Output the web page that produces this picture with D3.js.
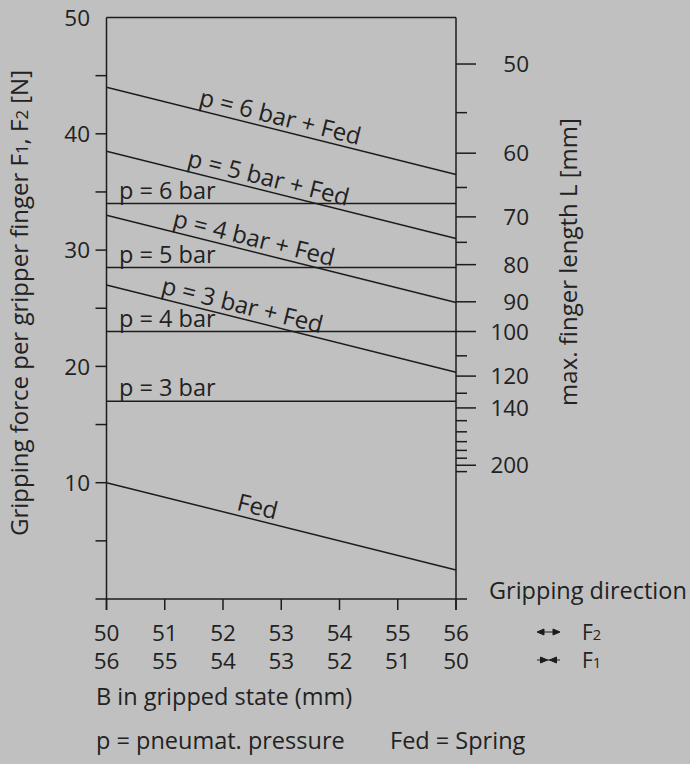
<!DOCTYPE html>
<html>
<head>
<meta charset="utf-8">
<script src="https://cdn.jsdelivr.net/npm/d3@7"></script>
<style>
  html, body { margin: 0; padding: 0; background: #c0c0c0; }
  svg { display: block; }
  text { font-family: "Open Sans", Lato, sans-serif; fill: #222; }
</style>
</head>
<body>
<script>
// ---- data ----
const xTicks = [50, 51, 52, 53, 54, 55, 56];
const xTicksLower = [56, 55, 54, 53, 52, 51, 50];
const yTicks = [5, 10, 15, 20, 25, 30, 35, 40, 45];
const yLabels = [10, 20, 30, 40, 50];

// right axis: max. finger length L, force ~ K / L
const lengthConst = 2300;
const lengthMajor = [50, 60, 70, 80, 90, 100, 120, 140, 200];
const lengthMinor = [55, 65, 75, 110, 130, 150, 160, 170, 180, 190, 210];

// pneumatic only (flat lines)
const flatNames = ["p = 3 bar", "p = 4 bar", "p = 5 bar", "p = 6 bar"];
const flatForce = [17, 23, 28.5, 34];

// spring and pneumatic + spring (sloped lines)
const slopeNames = ["Fed", "p = 3 bar + Fed", "p = 4 bar + Fed", "p = 5 bar + Fed", "p = 6 bar + Fed"];
const slopeStart = [10, 27, 33, 38.5, 44];
const slopeEnd = [2.5, 19.5, 25.5, 31, 36.5];
const slopeLabelAt = [52.2, 50.9, 51.1, 51.35, 51.55];

// ---- layout ----
const W = 690, H = 764;
const fsTick = 22.5, fs = 23.5, fsSlope = 24, fsTitle = 24, fsDir = 21;
const ink = "#1c1c1c";

const x = d3.scaleLinear().domain([50, 56]).range([106.5, 456]);
const y = d3.scaleLinear().domain([0, 50]).range([599, 17.5]);
const yL = d3.scalePow().exponent(-1)
  .domain([50, 200])
  .range([y(lengthConst / 50), y(lengthConst / 200)]);

const svg = d3.select("body").append("svg")
  .attr("width", W).attr("height", H);

const g = svg.append("g")
  .attr("stroke", ink)
  .attr("stroke-width", 1.5)
  .attr("fill", "none");

// frame
g.append("line").attr("x1", x(50)).attr("x2", x(56)).attr("y1", y(50)).attr("y2", y(50));
g.append("line").attr("x1", x(50)).attr("x2", x(50)).attr("y1", y(50)).attr("y2", y(0) + 11);
g.append("line").attr("x1", x(56)).attr("x2", x(56)).attr("y1", y(50)).attr("y2", y(0) + 11);
g.append("line").attr("x1", x(50) - 11).attr("x2", x(56) + 11).attr("y1", y(0)).attr("y2", y(0));

// left ticks
g.selectAll(".yt").data(yTicks).join("line")
  .attr("x1", x(50) - 11).attr("x2", x(50))
  .attr("y1", d => y(d)).attr("y2", d => y(d));

svg.selectAll(".yl").data(yLabels).join("text")
  .attr("x", 90).attr("y", d => y(d)).attr("dy", "0.36em")
  .attr("text-anchor", "end").attr("font-size", fsTick)
  .text(d => d);

// bottom ticks
g.selectAll(".xt").data(xTicks).join("line")
  .attr("x1", d => x(d)).attr("x2", d => x(d))
  .attr("y1", y(0)).attr("y2", y(0) + 11);

svg.selectAll(".xl").data(xTicks).join("text")
  .attr("x", d => x(d)).attr("y", 641)
  .attr("text-anchor", "middle").attr("font-size", fsTick)
  .text(d => d);

svg.selectAll(".xl2").data(xTicksLower).join("text")
  .attr("x", (d, i) => x(xTicks[i])).attr("y", 669)
  .attr("text-anchor", "middle").attr("font-size", fsTick)
  .text(d => d);

// right axis (finger length)
g.selectAll(".rt").data(lengthMajor).join("line")
  .attr("x1", x(56)).attr("x2", x(56) + 20)
  .attr("y1", d => yL(d)).attr("y2", d => yL(d));
g.selectAll(".rm").data(lengthMinor).join("line")
  .attr("x1", x(56)).attr("x2", x(56) + 11)
  .attr("y1", d => yL(d)).attr("y2", d => yL(d));

svg.selectAll(".rl").data(lengthMajor).join("text")
  .attr("x", 529).attr("y", d => yL(d)).attr("dy", "0.36em")
  .attr("text-anchor", "end").attr("font-size", fsTick)
  .text(d => d);

// flat lines
g.selectAll(".fl").data(flatForce).join("line")
  .attr("x1", x(50)).attr("x2", x(56))
  .attr("y1", d => y(d)).attr("y2", d => y(d));

svg.selectAll(".fll").data(flatNames).join("text")
  .attr("x", 119).attr("y", (d, i) => y(flatForce[i]) - 5)
  .attr("font-size", fs)
  .text(d => d);

// sloped lines
const line = d3.line().x(d => x(d[0])).y(d => y(d[1]));
g.selectAll(".sl").data(slopeStart).join("path")
  .attr("d", (d, i) => line([[50, d], [56, slopeEnd[i]]]));

svg.selectAll(".sll").data(slopeNames).join("text")
  .attr("font-size", fsSlope)
  .attr("transform", (d, i) => {
    const xv = slopeLabelAt[i];
    const fv = slopeStart[i] + (slopeEnd[i] - slopeStart[i]) * (xv - 50) / 6;
    const ang = Math.atan2(y(slopeEnd[i]) - y(slopeStart[i]), x(56) - x(50)) * 180 / Math.PI;
    return `translate(${x(xv)},${y(fv)}) rotate(${ang}) translate(0,-5)`;
  })
  .text(d => d);

// axis titles
const lt = svg.append("text")
  .attr("transform", "translate(28,303) rotate(-90)")
  .attr("text-anchor", "middle").attr("font-size", fsTitle);
lt.append("tspan").text("Gripping force per gripper finger F");
lt.append("tspan").attr("font-size", fsTitle * 0.7).text("1");
lt.append("tspan").text(", F");
lt.append("tspan").attr("font-size", fsTitle * 0.7).text("2");
lt.append("tspan").text(" [N]");

svg.append("text")
  .attr("transform", "translate(577,262) rotate(-90)")
  .attr("text-anchor", "middle").attr("font-size", fsTitle)
  .text("max. finger length L [mm]");

// gripping direction legend
svg.append("text").attr("x", 489).attr("y", 599).attr("font-size", fs)
  .text("Gripping direction");

const arrowRows = [
  { name: "F", sub: "2", out: true, yy: 640 },
  { name: "F", sub: "1", out: false, yy: 668 }
];
arrowRows.forEach(r => {
  const cy = r.yy - 8;
  const ax0 = 537, ax1 = 560, mid = (ax0 + ax1) / 2;
  const head = (tip, dir) => `M${tip},${cy}L${tip - dir * 7},${cy - 3}L${tip - dir * 7},${cy + 3}Z`;
  const ag = svg.append("g").attr("fill", ink).attr("stroke", ink).attr("stroke-width", 1);
  if (r.out) {
    ag.append("path").attr("d", head(ax0, -1) + head(ax1, 1));
    ag.append("line").attr("x1", ax0 + 5).attr("x2", ax1 - 5).attr("y1", cy).attr("y2", cy);
  } else {
    ag.append("path").attr("d", head(mid - 1, 1) + head(mid + 1, -1));
    ag.append("line").attr("x1", ax0).attr("x2", ax1).attr("y1", cy).attr("y2", cy);
  }
  const t = svg.append("text").attr("x", 582).attr("y", r.yy).attr("font-size", fsDir);
  t.append("tspan").text(r.name);
  t.append("tspan").attr("font-size", fsDir * 0.7).text(r.sub);
});

// bottom captions
svg.append("text").attr("x", 96).attr("y", 705).attr("font-size", fs)
  .text("B in gripped state (mm)");
svg.append("text").attr("x", 96).attr("y", 749).attr("font-size", fs)
  .text("p = pneumat. pressure");
svg.append("text").attr("x", 390).attr("y", 749).attr("font-size", fs)
  .text("Fed = Spring");
</script>
</body>
</html>
